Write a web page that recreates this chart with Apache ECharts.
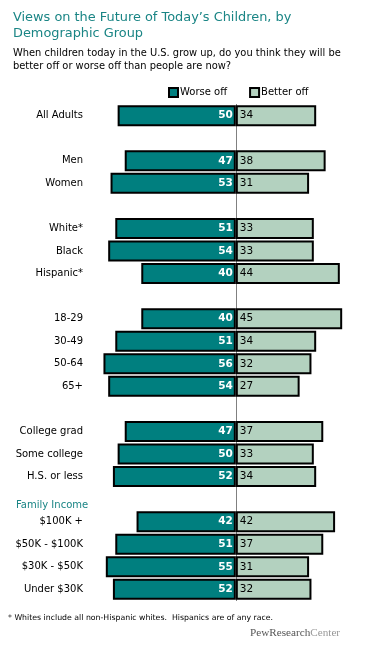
<!DOCTYPE html>
<html>
<head>
<meta charset="utf-8">
<script src="https://cdn.jsdelivr.net/npm/echarts@6/dist/echarts.min.js"></script>
<style>
html,body{margin:0;padding:0;background:#fff;}
#c{width:367px;height:651px;}
</style>
</head>
<body>
<div id="c"></div>
<script>
const categories = ['All Adults','','Men','Women','','White*','Black','Hispanic*','','18-29','30-49','50-64','65+','','College grad','Some college','H.S. or less','','$100K +','$50K - $100K','$30K - $50K','Under $30K'];
const worseOff = [50,null,47,53,null,51,54,40,null,40,51,56,54,null,47,50,52,null,42,51,55,52];
const betterOff = [34,null,38,31,null,33,33,44,null,45,34,32,27,null,37,33,34,null,42,37,31,32];
const seriesNames = ['Worse off','Better off'];

const FONT = 'DejaVu Sans';
const chart = echarts.init(document.getElementById('c'), null, {renderer:'canvas'});
chart.setOption({
  animation:false,
  backgroundColor:'#fff',
  title:[
    {text:"Views on the Future of Today\u2019s Children, by\nDemographic Group", left:8, top:5,
     textStyle:{fontFamily:FONT, fontSize:12.9, fontWeight:'normal', color:'#1a8585', lineHeight:16}},
    {text:"When children today in the U.S. grow up, do you think they will be\nbetter off or worse off than people are now?", left:8, top:42,
     textStyle:{fontFamily:FONT, fontSize:9.9, fontWeight:'normal', color:'#000', lineHeight:13}}
  ],
  legend:{
    data:seriesNames, left:163, top:82, itemWidth:9, itemHeight:9, itemGap:22,
    icon:'rect',
    textStyle:{fontFamily:FONT, fontSize:10, color:'#000', padding:[0,0,0,-3]}
  },
  grid:{left:94, right:13, top:104.4, bottom:651-600.6, containLabel:false},
  xAxis:{type:'value', min:-60, max:50, show:false},
  yAxis:{type:'category', data:categories, inverse:true,
    axisTick:{show:false},
    axisLine:{show:true, onZero:true, lineStyle:{color:'#808080', width:1}},
    axisLabel:{fontFamily:FONT, fontSize:10, color:'#000', margin:11}
  },
  series:[
    {name:seriesNames[0], type:'bar', stack:'a', barWidth:21,
     data:worseOff.map(v=>v==null?null:-v),
     itemStyle:{color:'#007f7f', borderColor:'#000', borderWidth:2},
     label:{show:true, position:'insideRight', offset:[2,0], formatter:p=>Math.abs(p.value), color:'#fff', fontFamily:FONT, fontSize:10.5, fontWeight:'bold'}
    },
    {name:seriesNames[1], type:'bar', stack:'a', barWidth:21,
     data:betterOff,
     itemStyle:{color:'#b3d1bf', borderColor:'#000', borderWidth:2},
     label:{show:true, position:'insideLeft', offset:[-1,0], color:'#000', fontFamily:FONT, fontSize:10.5}
    }
  ],
  graphic:[
    {type:'text', left:16, top:500, style:{text:'Family Income', fontFamily:FONT, fontSize:10, fill:'#1a8585'}},
    {type:'text', left:8, top:614, style:{text:'* Whites include all non-Hispanic whites.  Hispanics are of any race.', fontFamily:FONT, fontSize:7.8, fill:'#000'}},
    {type:'text', left:250, top:628, style:{rich:{a:{fontFamily:'Liberation Serif', fontSize:11.2, fill:'#555'}, b:{fontFamily:'Liberation Serif', fontSize:11.2, fill:'#999'}}, text:'{a|PewResearch}{b|Center}'}}
  ]
});
</script>
</body>
</html>
